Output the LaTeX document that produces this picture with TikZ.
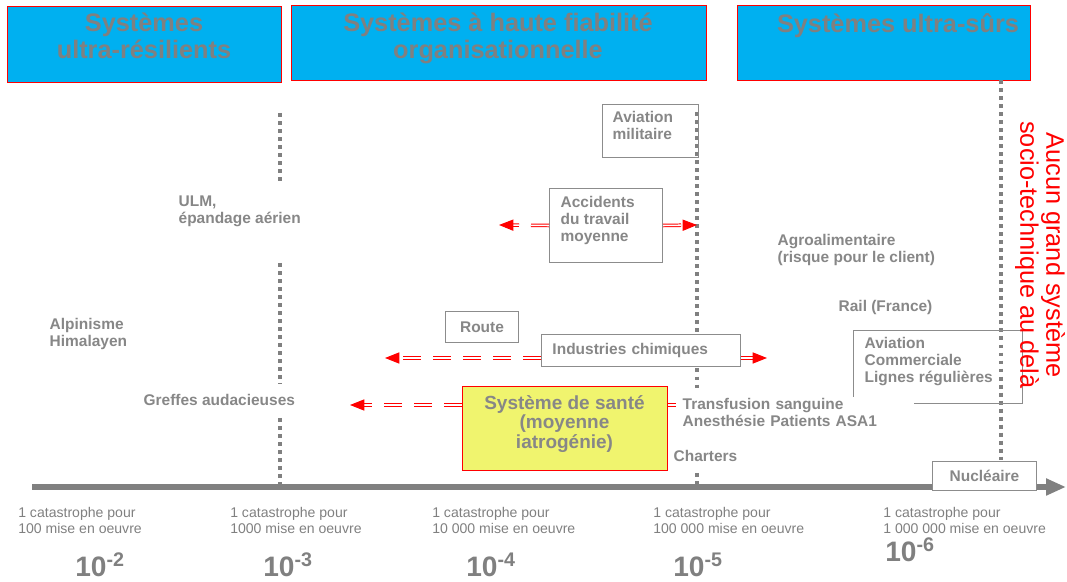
\documentclass[tikz,border=0pt]{standalone}
\usepackage{fontspec}
\setmainfont{Liberation Sans}
\usepackage{tikz}
\usetikzlibrary{arrows.meta,positioning}
\definecolor{scaleblue}{HTML}{00B0F0}
\definecolor{scalegrey}{HTML}{808080}
\definecolor{labelgrey}{HTML}{878787}
\definecolor{framegrey}{HTML}{8C8C8C}
\definecolor{alertred}{HTML}{FF0000}
\definecolor{santeyellow}{HTML}{F0F46E}
\tikzset{
  bandbox/.style={draw=alertred, fill=scaleblue, line width=0.8pt, anchor=north west, inner sep=0pt},
  bandtitle/.style={text=scalegrey, font=\fontsize{18}{19.2}\selectfont\bfseries, align=center, anchor=north, inner sep=0pt},
  tagfont/.style={text=labelgrey, font=\fontsize{11}{12}\selectfont\bfseries},
  tag/.style={tagfont, align=left, anchor=north west, inner sep=1pt, fill=white},
  casebox/.style={draw=framegrey, fill=white, line width=0.7pt, anchor=north west, inner sep=0pt},
  sentinel/.style={draw=scalegrey, line width=2.8pt, dash pattern=on 2.8pt off 2.9pt},
  spread/.style={draw=alertred, double=white, double distance=1.1pt, line width=0.7pt, dash pattern=on 0.45cm off 0.3cm, -{Triangle[length=3.6mm,width=2.8mm]}},
  axisline/.style={draw=scalegrey, line width=4.3pt, -{Triangle[length=5mm,width=4mm]}},
  rate/.style={text=scalegrey, font=\fontsize{10}{11.4}\selectfont, align=left, anchor=north west, inner sep=0pt},
  power/.style={text=scalegrey, font=\fontsize{20}{22}\selectfont\bfseries, anchor=base west, inner sep=0pt}
}

\begin{document}
\begin{tikzpicture}[x=0.025cm, y=-0.025cm]
  \useasboundingbox (0,0) rectangle (1067,582);

  % bands of system types
  \node[bandbox, minimum width=6.85cm, minimum height=1.9cm] (band1) at (7,6) {};
  \node[bandbox, minimum width=10.375cm, minimum height=1.875cm] (band2) at (291,5) {};
  \node[bandbox, minimum width=7.325cm, minimum height=1.875cm] (band3) at (737,5) {};
  \node[bandtitle] (title1) at (144,13) {Systèmes\\ultra-résilients};
  \node[bandtitle] (title2) at (498,13) {Systèmes à haute fiabilité\\organisationnelle};
  \node[bandtitle] (title3) at (898,13) {Systèmes ultra-sûrs};

  % dotted limits
  \coordinate (lima1) at (280,113); \coordinate (lima2) at (280,185);
  \coordinate (lima3) at (280,263); \coordinate (lima4) at (280,384);
  \coordinate (lima5) at (280,418); \coordinate (lima6) at (280,485);
  \coordinate (limb1) at (697,112); \coordinate (limb2) at (697,392);
  \coordinate (limb3) at (697,473); \coordinate (limb4) at (697,487);
  \coordinate (limc1) at (1001,80); \coordinate (limc2) at (1001,460);
  \draw[sentinel] (lima1) -- (lima2);
  \draw[sentinel] (lima3) -- (lima4);
  \draw[sentinel] (lima5) -- (lima6);
  \draw[sentinel] (limb1) -- (limb2);
  \draw[sentinel] (limb3) -- (limb4);
  \draw[sentinel] (limc1) -- (limc2);

  % scale axis
  \coordinate (axstart) at (32,487);
  \coordinate (axend) at (1066,487);
  \draw[axisline] (axstart) -- (axend);

  % framed cases
  \node[casebox, fill=none, minimum width=2.4cm, minimum height=1.325cm] (avmilbox) at (602,104) {};
  \node[tag] (avmil) at (611,110) {Aviation\\militaire};
  \node[casebox, minimum width=2.825cm, minimum height=1.85cm] (accbox) at (549,188) {};
  \node[tag] (acc) at (559,195) {Accidents\\du travail\\moyenne};
  \node[casebox, tagfont, minimum width=1.825cm, minimum height=0.775cm] (route) at (445,311) {Route};
  \node[casebox, tagfont, align=left, text width=4.425cm, inner xsep=0.275cm, minimum height=0.8cm] (chim) at (541,334) {Industries chimiques};
  \node[casebox, fill=none, minimum width=4.225cm, minimum height=1.825cm] (avcombox) at (853,330) {};
  \node[tag] (avcom) at (863,336) {Aviation\\Commerciale\\Lignes régulières};
  \node[casebox, draw=alertred, fill=santeyellow, line width=1pt, minimum width=5.125cm, minimum height=2.1cm] (santebox) at (462,386) {};
  \node[text=labelgrey, font=\fontsize{13.5}{14}\selectfont\bfseries, align=center, anchor=north, inner sep=0pt] (sante) at (564.5,395) {Système de santé\\(moyenne\\iatrogénie)};
  \node[casebox, tagfont, minimum width=2.6cm, minimum height=0.725cm] (nucl) at (932,461) {Nucléaire};

  % spreads
  \coordinate (accl) at (499,225); \coordinate (accr) at (697,225);
  \coordinate (chiml) at (385,358); \coordinate (chimr) at (767,358);
  \coordinate (santel) at (350,405); \coordinate (santer) at (676,405);
  \draw[spread] (accbox.west) -- (accl);
  \draw[spread] (accbox.east) -- (accr);
  \draw[spread] (chim.west |- chiml) -- (chiml);
  \draw[spread] (chim.east |- chimr) -- (chimr);
  \draw[spread] (santebox.west |- santel) -- (santel);
  \draw[spread, arrows=-] (santebox.east |- santer) -- (santer);

  % free labels
  \node[tag] (ulm) at (177,194) {ULM,\\épandage aérien};
  \node[tag] (alpi) at (48,317) {Alpinisme\\Himalayen};
  \node[tag] (greffe) at (142,393) {Greffes audacieuses};
  \node[tag] (agro) at (776,233) {Agroalimentaire\\(risque pour le client)};
  \node[tag] (rail) at (837,299) {Rail (France)};
  \node[tag, text width=5.75cm] (transf) at (681,397) {Transfusion sanguine\\Anesthésie Patients ASA1};
  \node[tag] (charter) at (672,449) {Charters};

  % scale values
  \foreach \x/\n/\e/\px/\py in {18/100/2/75/577, 230/1000/3/263/577, 432/10 000/4/466/577, 653/100 000/5/673/577, 883/1 000 000/6/885/562}{
    \node[rate] (rate\e) at (\x,507) {1 catastrophe pour\\\n{} mise en oeuvre};
    \node[power] (power\e) at (\px,\py) {10\textsuperscript{-\e}};
  }

  \node[text=alertred, font=\fontsize{18}{18.5}\selectfont, align=center, rotate=-90] (beyond) at (1040,255) {Aucun grand système\\socio-technique au delà};
\end{tikzpicture}
\end{document}
